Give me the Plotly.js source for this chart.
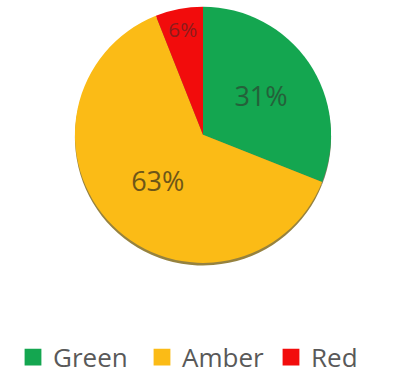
<!DOCTYPE html>
<html>
<head>
<meta charset="utf-8">
<script src="https://cdn.plot.ly/plotly-3.0.1.min.js"></script>
<style>
html,body{margin:0;padding:0;background:#fff;}
#chart{width:400px;height:381px;}
.legendpie{transform:translate(20px,0px) scale(1.4);}
</style>
</head>
<body>
<div id="chart"></div>
<script>
const categories = ["Green", "Amber", "Red"];
const values = [31, 63, 6];
const sliceColors = ["#14a650", "#fbbb16", "#f20c0c"];
const labelColors = ["#24613a", "#6e5618", "#8c1c1c"];
const shadowColors = ["#5e5a3a", "#7d6410", "#5e5a3a"];

const shadow = {
  type: "pie",
  labels: categories,
  values: values,
  sort: false,
  direction: "clockwise",
  rotation: 0,
  marker: { colors: shadowColors, line: { width: 0 } },
  textinfo: "none",
  showlegend: false,
  domain: { x: [0.1825, 0.8325], y: [0.292, 0.975] },
  hoverinfo: "none",
  opacity: 0.8
};

const trace = {
  type: "pie",
  labels: categories,
  values: values,
  sort: false,
  direction: "clockwise",
  rotation: 0,
  marker: { colors: sliceColors, line: { width: 0 } },
  textinfo: "percent",
  texttemplate: "%{percent:.0%}",
  textposition: "inside",
  insidetextorientation: "horizontal",
  textfont: { family: "Open Sans, sans-serif", size: 27, color: labelColors },
  domain: { x: [0.1825, 0.8325], y: [0.299, 0.982] },
  hoverinfo: "none"
};

const layout = {
  width: 400,
  height: 381,
  margin: { l: 0, r: 0, t: 0, b: 0 },
  paper_bgcolor: "#ffffff",
  showlegend: true,
  legend: {
    orientation: "h",
    x: 0.54,
    xanchor: "center",
    y: -0.015,
    yanchor: "bottom",
    entrywidth: 84,
    font: { family: "Open Sans, sans-serif", size: 26, color: "#595959" },
    traceorder: "normal"
  }
};

Plotly.newPlot("chart", [shadow, trace], layout, { displayModeBar: false, staticPlot: true });
</script>
</body>
</html>
